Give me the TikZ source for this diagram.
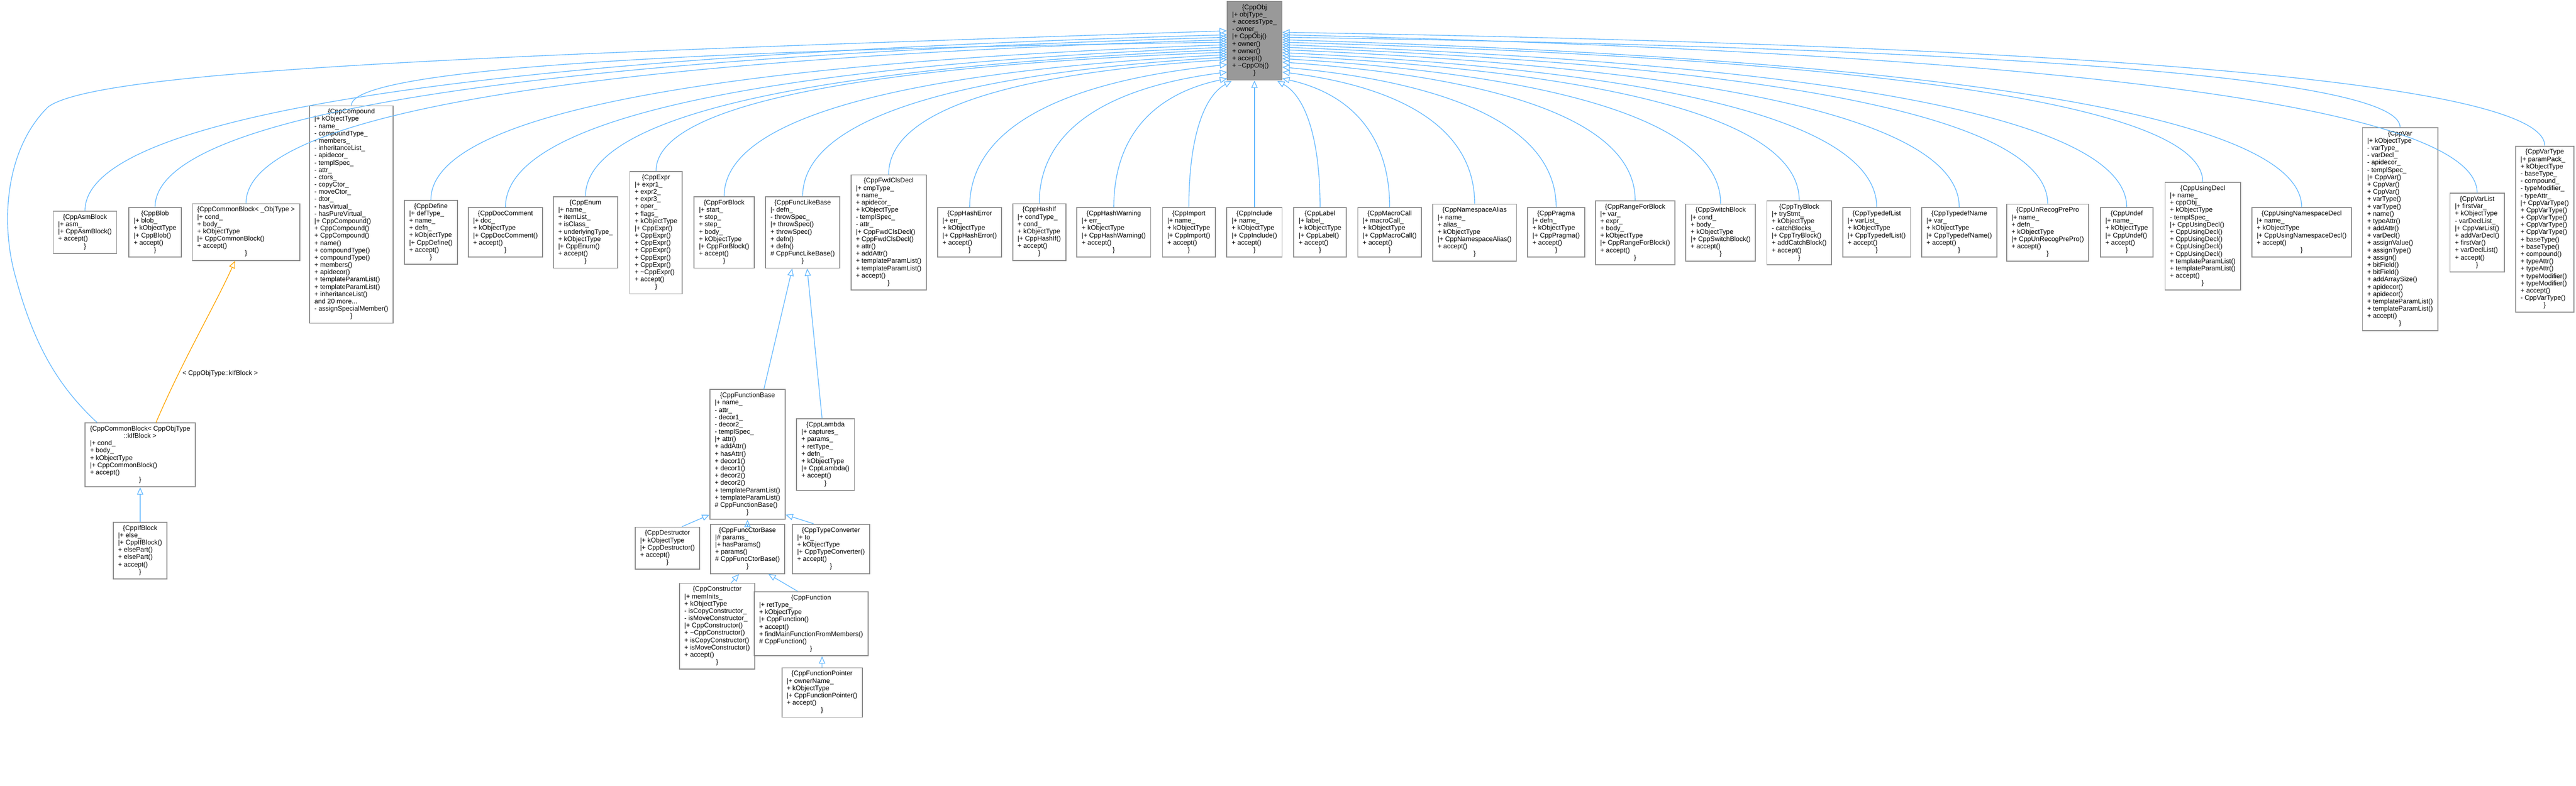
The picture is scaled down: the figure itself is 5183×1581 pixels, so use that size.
\documentclass[tikz,border=0pt]{standalone}
\usepackage{fontspec}
\setmainfont{Liberation Sans}
\usetikzlibrary{arrows.meta,calc}
\definecolor{ebl}{HTML}{63B8FF}
\definecolor{eor}{HTML}{FFA500}
\definecolor{bgr}{HTML}{8C8C8C}
\definecolor{rootf}{HTML}{999999}
\newcommand\hd[1]{\multicolumn{1}{@{}c@{}}{#1}}
\newcommand\cls[1]{\begin{tabular}{@{}l@{}}#1\end{tabular}}
\newcommand\obr{\hd{\}}}
\newcommand\tld{\textasciitilde}
\newcommand\redge[5]{\draw[inh] (#4,#5) .. controls ({#2+(#4-#2)*0.35},{#5+(#3-#5)*0.12}) and (#2,{#5+(#3-#5)*0.45}) .. (#1.north);}
\tikzset{
  cbox/.style={draw=bgr, line width=0.55pt, fill=white, anchor=north, inner xsep=2.8pt, inner ysep=1.6pt,
    font=\fontsize{3.8}{4.18}\selectfont},
  inh/.style={draw=ebl, line width=0.4pt, arrows={Triangle[open,length=4.2pt,width=3.6pt]-}},
  tmpl/.style={draw=eor, line width=0.4pt, arrows={Triangle[open,length=4.2pt,width=3.6pt]-}},
}
\begin{document}
\begin{tikzpicture}[x=0.01cm,y=-0.01cm]
\useasboundingbox (0,0) rectangle (5183,1581);
\node[cbox,fill=rootf] (root) at (2524,2) {\cls{\hd{\{CppObj}\\|+ objType\_\\+ accessType\_\\- owner\_\\|+ CppObj()\\+ owner()\\+ owner()\\+ accept()\\+ \tld CppObj()\\\obr}};
\node[cbox] (asm) at (171,424) {\cls{\hd{\{CppAsmBlock}\\|+ asm\_\\|+ CppAsmBlock()\\+ accept()\\\obr}};
\node[cbox] (blob) at (312,417) {\cls{\hd{\{CppBlob}\\|+ blob\_\\+ kObjectType\\|+ CppBlob()\\+ accept()\\\obr}};
\node[cbox] (cbT) at (495,409) {\cls{\hd{\{CppCommonBlock< \_ObjType >}\\|+ cond\_\\+ body\_\\+ kObjectType\\|+ CppCommonBlock()\\+ accept()\\\obr}};
\node[cbox] (compound) at (707,212) {\cls{\hd{\{CppCompound}\\|+ kObjectType\\- name\_\\- compoundType\_\\- members\_\\- inheritanceList\_\\- apidecor\_\\- templSpec\_\\- attr\_\\- ctors\_\\- copyCtor\_\\- moveCtor\_\\- dtor\_\\- hasVirtual\_\\- hasPureVirtual\_\\|+ CppCompound()\\+ CppCompound()\\+ CppCompound()\\+ name()\\+ compoundType()\\+ compoundType()\\+ members()\\+ apidecor()\\+ templateParamList()\\+ templateParamList()\\+ inheritanceList()\\and 20 more...\\- assignSpecialMember()\\\obr}};
\node[cbox] (define) at (867,402) {\cls{\hd{\{CppDefine}\\|+ defType\_\\+ name\_\\+ defn\_\\+ kObjectType\\|+ CppDefine()\\+ accept()\\\obr}};
\node[cbox] (doccomment) at (1017,417) {\cls{\hd{\{CppDocComment}\\|+ doc\_\\+ kObjectType\\|+ CppDocComment()\\+ accept()\\\obr}};
\node[cbox] (enum) at (1178,395) {\cls{\hd{\{CppEnum}\\|+ name\_\\+ itemList\_\\+ isClass\_\\+ underlyingType\_\\+ kObjectType\\|+ CppEnum()\\+ accept()\\\obr}};
\node[cbox] (expr) at (1320,344) {\cls{\hd{\{CppExpr}\\|+ expr1\_\\+ expr2\_\\+ expr3\_\\+ oper\_\\+ flags\_\\+ kObjectType\\|+ CppExpr()\\+ CppExpr()\\+ CppExpr()\\+ CppExpr()\\+ CppExpr()\\+ CppExpr()\\+ \tld CppExpr()\\+ accept()\\\obr}};
\node[cbox] (forblock) at (1457,395) {\cls{\hd{\{CppForBlock}\\|+ start\_\\+ stop\_\\+ step\_\\+ body\_\\+ kObjectType\\|+ CppForBlock()\\+ accept()\\\obr}};
\node[cbox] (funclike) at (1615,395) {\cls{\hd{\{CppFuncLikeBase}\\|- defn\_\\- throwSpec\_\\|+ throwSpec()\\+ throwSpec()\\+ defn()\\+ defn()\\\# CppFuncLikeBase()\\\obr}};
\node[cbox] (fwd) at (1788,351) {\cls{\hd{\{CppFwdClsDecl}\\|+ cmpType\_\\+ name\_\\+ apidecor\_\\+ kObjectType\\- templSpec\_\\- attr\_\\|+ CppFwdClsDecl()\\+ CppFwdClsDecl()\\+ attr()\\+ addAttr()\\+ templateParamList()\\+ templateParamList()\\+ accept()\\\obr}};
\node[cbox] (hasherr) at (1951,417) {\cls{\hd{\{CppHashError}\\|+ err\_\\+ kObjectType\\|+ CppHashError()\\+ accept()\\\obr}};
\node[cbox] (hashif) at (2091,409) {\cls{\hd{\{CppHashIf}\\|+ condType\_\\+ cond\_\\+ kObjectType\\|+ CppHashIf()\\+ accept()\\\obr}};
\node[cbox] (hashwarn) at (2241,417) {\cls{\hd{\{CppHashWarning}\\|+ err\_\\+ kObjectType\\|+ CppHashWarning()\\+ accept()\\\obr}};
\node[cbox] (import) at (2392,417) {\cls{\hd{\{CppImport}\\|+ name\_\\+ kObjectType\\|+ CppImport()\\+ accept()\\\obr}};
\node[cbox] (include) at (2524,417) {\cls{\hd{\{CppInclude}\\|+ name\_\\+ kObjectType\\|+ CppInclude()\\+ accept()\\\obr}};
\node[cbox] (label) at (2656,417) {\cls{\hd{\{CppLabel}\\|+ label\_\\+ kObjectType\\|+ CppLabel()\\+ accept()\\\obr}};
\node[cbox] (macro) at (2796,417) {\cls{\hd{\{CppMacroCall}\\|+ macroCall\_\\+ kObjectType\\|+ CppMacroCall()\\+ accept()\\\obr}};
\node[cbox] (nsalias) at (2967,410) {\cls{\hd{\{CppNamespaceAlias}\\|+ name\_\\+ alias\_\\+ kObjectType\\|+ CppNamespaceAlias()\\+ accept()\\\obr}};
\node[cbox] (pragma) at (3131,417) {\cls{\hd{\{CppPragma}\\|+ defn\_\\+ kObjectType\\|+ CppPragma()\\+ accept()\\\obr}};
\node[cbox] (rangefor) at (3290,403) {\cls{\hd{\{CppRangeForBlock}\\|+ var\_\\+ expr\_\\+ body\_\\+ kObjectType\\|+ CppRangeForBlock()\\+ accept()\\\obr}};
\node[cbox] (switch) at (3462,410) {\cls{\hd{\{CppSwitchBlock}\\|+ cond\_\\+ body\_\\+ kObjectType\\|+ CppSwitchBlock()\\+ accept()\\\obr}};
\node[cbox] (try) at (3620,403) {\cls{\hd{\{CppTryBlock}\\|+ tryStmt\_\\+ kObjectType\\- catchBlocks\_\\|+ CppTryBlock()\\+ addCatchBlock()\\+ accept()\\\obr}};
\node[cbox] (tdlist) at (3776,417) {\cls{\hd{\{CppTypedefList}\\|+ varList\_\\+ kObjectType\\|+ CppTypedefList()\\+ accept()\\\obr}};
\node[cbox] (tdname) at (3942,417) {\cls{\hd{\{CppTypedefName}\\|+ var\_\\+ kObjectType\\|+ CppTypedefName()\\+ accept()\\\obr}};
\node[cbox] (unrecog) at (4120,410) {\cls{\hd{\{CppUnRecogPrePro}\\|+ name\_\\+ defn\_\\+ kObjectType\\|+ CppUnRecogPrePro()\\+ accept()\\\obr}};
\node[cbox] (undef) at (4279,417) {\cls{\hd{\{CppUndef}\\|+ name\_\\+ kObjectType\\|+ CppUndef()\\+ accept()\\\obr}};
\node[cbox] (usingdecl) at (4432,366) {\cls{\hd{\{CppUsingDecl}\\|+ name\_\\+ cppObj\_\\+ kObjectType\\- templSpec\_\\|+ CppUsingDecl()\\+ CppUsingDecl()\\+ CppUsingDecl()\\+ CppUsingDecl()\\+ CppUsingDecl()\\+ templateParamList()\\+ templateParamList()\\+ accept()\\\obr}};
\node[cbox] (usingns) at (4631,417) {\cls{\hd{\{CppUsingNamespaceDecl}\\|+ name\_\\+ kObjectType\\|+ CppUsingNamespaceDecl()\\+ accept()\\\obr}};
\node[cbox] (var) at (4829,256) {\cls{\hd{\{CppVar}\\|+ kObjectType\\- varType\_\\- varDecl\_\\- apidecor\_\\- templSpec\_\\|+ CppVar()\\+ CppVar()\\+ CppVar()\\+ varType()\\+ varType()\\+ name()\\+ typeAttr()\\+ addAttr()\\+ varDecl()\\+ assignValue()\\+ assignType()\\+ assign()\\+ bitField()\\+ bitField()\\+ addArraySize()\\+ apidecor()\\+ apidecor()\\+ templateParamList()\\+ templateParamList()\\+ accept()\\\obr}};
\node[cbox] (varlist) at (4984,388) {\cls{\hd{\{CppVarList}\\|+ firstVar\_\\+ kObjectType\\- varDeclList\_\\|+ CppVarList()\\+ addVarDecl()\\+ firstVar()\\+ varDeclList()\\+ accept()\\\obr}};
\node[cbox] (vartype) at (5120,293) {\cls{\hd{\{CppVarType}\\|+ paramPack\_\\+ kObjectType\\- baseType\_\\- compound\_\\- typeModifier\_\\- typeAttr\_\\|+ CppVarType()\\+ CppVarType()\\+ CppVarType()\\+ CppVarType()\\+ CppVarType()\\+ baseType()\\+ baseType()\\+ compound()\\+ typeAttr()\\+ typeAttr()\\+ typeModifier()\\+ typeModifier()\\+ accept()\\- CppVarType()\\\obr}};
\node[cbox] (functionbase) at (1504,783) {\cls{\hd{\{CppFunctionBase}\\|+ name\_\\- attr\_\\- decor1\_\\- decor2\_\\- templSpec\_\\|+ attr()\\+ addAttr()\\+ hasAttr()\\+ decor1()\\+ decor1()\\+ decor2()\\+ decor2()\\+ templateParamList()\\+ templateParamList()\\\# CppFunctionBase()\\\obr}};
\node[cbox] (lambda) at (1661,842) {\cls{\hd{\{CppLambda}\\|+ captures\_\\+ params\_\\+ retType\_\\+ defn\_\\+ kObjectType\\|+ CppLambda()\\+ accept()\\\obr}};
\node[cbox] (destructor) at (1343,1060) {\cls{\hd{\{CppDestructor}\\|+ kObjectType\\|+ CppDestructor()\\+ accept()\\\obr}};
\node[cbox] (funcctor) at (1504,1054) {\cls{\hd{\{CppFuncCtorBase}\\|\# params\_\\|+ hasParams()\\+ params()\\\# CppFuncCtorBase()\\\obr}};
\node[cbox] (typeconv) at (1672,1054) {\cls{\hd{\{CppTypeConverter}\\|+ to\_\\+ kObjectType\\|+ CppTypeConverter()\\+ accept()\\\obr}};
\node[cbox] (constructor) at (1443,1173) {\cls{\hd{\{CppConstructor}\\|+ memInits\_\\+ kObjectType\\- isCopyConstructor\_\\- isMoveConstructor\_\\|+ CppConstructor()\\+ \tld CppConstructor()\\+ isCopyConstructor()\\+ isMoveConstructor()\\+ accept()\\\obr}};
\node[cbox] (function) at (1632,1190) {\cls{\hd{\{CppFunction}\\|+ retType\_\\+ kObjectType\\|+ CppFunction()\\+ accept()\\+ findMainFunctionFromMembers()\\\# CppFunction()\\\obr}};
\node[cbox] (funcptr) at (1654,1343) {\cls{\hd{\{CppFunctionPointer}\\|+ ownerName\_\\+ kObjectType\\|+ CppFunctionPointer()\\+ accept()\\\obr}};
\node[cbox] (cbIf) at (282,850) {\cls{\hd{\{CppCommonBlock< CppObjType}\\\hd{::kIfBlock >}\\|+ cond\_\\+ body\_\\+ kObjectType\\|+ CppCommonBlock()\\+ accept()\\\obr}};
\node[cbox] (ifblock) at (282,1050) {\cls{\hd{\{CppIfBlock}\\|+ else\_\\|+ CppIfBlock()\\+ elsePart()\\+ elsePart()\\+ accept()\\\obr}};
\redge{asm}{171}{424}{2469}{70}
\redge{blob}{312}{417}{2469}{75}
\redge{cbT}{495}{409}{2469}{80}
\redge{compound}{707}{212}{2469}{85}
\redge{define}{867}{402}{2469}{90}
\redge{doccomment}{1017}{417}{2469}{95}
\redge{enum}{1178}{395}{2469}{100}
\redge{expr}{1320}{344}{2469}{105}
\redge{forblock}{1457}{395}{2469}{110}
\redge{funclike}{1615}{395}{2469}{115}
\redge{fwd}{1788}{351}{2469}{120}
\redge{hasherr}{1951}{417}{2469}{130}
\redge{hashif}{2091}{409}{2469}{145}
\redge{hashwarn}{2241}{417}{2469}{158}
\redge{import}{2392}{417}{2478}{163}
\draw[inh] (root.south) -- (include.north);
\redge{label}{2656}{417}{2570}{163}
\redge{macro}{2796}{417}{2580}{158}
\redge{nsalias}{2967}{410}{2580}{145}
\redge{pragma}{3131}{417}{2580}{135}
\redge{rangefor}{3290}{403}{2580}{125}
\redge{switch}{3462}{410}{2580}{118}
\redge{try}{3620}{403}{2580}{112}
\redge{tdlist}{3776}{417}{2580}{106}
\redge{tdname}{3942}{417}{2580}{100}
\redge{unrecog}{4120}{410}{2580}{95}
\redge{undef}{4279}{417}{2580}{90}
\redge{usingdecl}{4432}{366}{2580}{85}
\redge{usingns}{4631}{417}{2580}{80}
\redge{var}{4829}{256}{2580}{75}
\redge{varlist}{4984}{388}{2580}{70}
\redge{vartype}{5120}{293}{2580}{65}
\draw[inh] ($(root.north west)+(0,60)$) .. controls (1000,110) and (200,140) .. (97,215)
  .. controls (10,300) and (0,450) .. (32,560) .. controls (70,700) and (120,780) .. ($(cbIf.north)+(-87,0)$);
\draw[tmpl] ($(cbT.south)+(-22,0)$) .. controls (430,620) and (370,720) .. ($(cbIf.north)+(32,0)$);
\node[font=\fontsize{3.8}{4.18}\selectfont] (tlab) at (443,752) {< CppObjType::kIfBlock >};
\draw[inh] (cbIf.south) -- (ifblock.north);
\draw[inh] ($(funclike.south)+(-21,0)$) -- ($(functionbase.north)+(33,0)$);
\draw[inh] ($(funclike.south)+(9,0)$) -- ($(lambda.north)+(-7,0)$);
\draw[inh] ($(functionbase.south west)+(0,-10)$) -- ($(destructor.north)+(29,0)$);
\draw[inh] (functionbase.south) -- (funcctor.north);
\draw[inh] ($(functionbase.south east)+(0,-10)$) -- ($(typeconv.north)+(-35,0)$);
\draw[inh] ($(funcctor.south)+(-17,0)$) -- ($(constructor.north)+(28,0)$);
\draw[inh] ($(funcctor.south)+(42,0)$) -- ($(function.north)+(-27,0)$);
\draw[inh] (funcptr.north |- function.south) -- (funcptr.north);
\end{tikzpicture}
\end{document}
